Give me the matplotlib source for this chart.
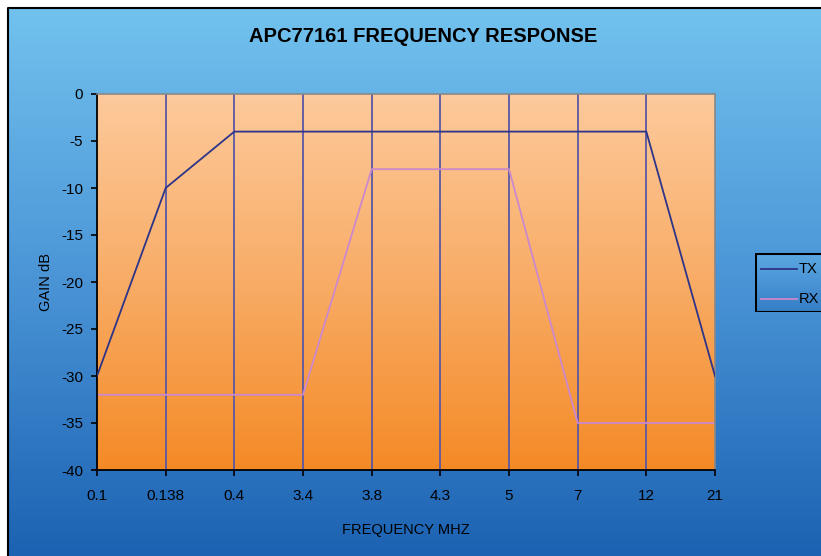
import numpy as np
import matplotlib
matplotlib.use("Agg")
from matplotlib import pyplot as plt
from matplotlib.colors import LinearSegmentedColormap
from matplotlib.patches import Rectangle

# Data
freqs = ["0.1", "0.138", "0.4", "3.4", "3.8", "4.3", "5", "7", "12", "21"]
tx_gain = [-30, -10, -4, -4, -4, -4, -4, -4, -4, -30]
rx_gain = [-32, -32, -32, -32, -8, -8, -8, -35, -35, -35]
yticks = [0, -5, -10, -15, -20, -25, -30, -35, -40]

plt.rcParams["font.family"] = ["Liberation Sans", "DejaVu Sans"]

fig = plt.figure(figsize=(8.21, 5.56), dpi=100)
fig.patch.set_facecolor("white")

# Background: blue gradient panel with black frame
bg = fig.add_axes([0, 0, 1, 1], zorder=-10)
bg.set_xlim(0, 821)
bg.set_ylim(556, 0)
bg.axis("off")
blue = LinearSegmentedColormap.from_list("blue", ["#72c2ee", "#4a94d6", "#1c62b2"])
grad = np.linspace(0, 1, 256).reshape(-1, 1)
bg.imshow(grad, cmap=blue, extent=[8, 821, 556, 8], aspect="auto")
bg.plot([8, 8, 821], [556, 8, 8], color="black", lw=1.5)

# Plot area
ax = fig.add_axes([97 / 821, 1 - 470 / 556, 618 / 821, 376 / 556])
x = np.arange(len(freqs))
orange = LinearSegmentedColormap.from_list("orange", ["#fdca9c", "#f8ac66", "#f48a26"])
ax.imshow(grad, cmap=orange, extent=[0, len(freqs) - 1, -40, 0], aspect="auto", zorder=0)

for xi in x[1:-1]:
    ax.axvline(xi, color="#5a58a4", lw=1.3, zorder=1)

ax.plot(x, tx_gain, color="#2e3488", lw=1.3, zorder=3, label="TX")
ax.plot(x, rx_gain, color="#cc88cc", lw=1.3, zorder=2, label="RX")

ax.set_xlim(0, len(freqs) - 1)
ax.set_ylim(-40, 0)
ax.set_xticks(x)
ax.set_xticklabels(freqs, fontsize=11)
ax.set_yticks(yticks)
ax.set_yticklabels([str(v) for v in yticks], fontsize=11)
ax.tick_params(axis="x", direction="out", length=4, width=1.2, color="black", pad=10)
ax.tick_params(axis="y", direction="out", length=4, width=1.2, color="black", pad=6)

for side in ["left", "bottom"]:
    ax.spines[side].set_color("black")
    ax.spines[side].set_linewidth(1.3)
for side in ["top", "right"]:
    ax.spines[side].set_color("#888888")
    ax.spines[side].set_linewidth(1.2)

ax.set_xlabel("FREQUENCY MHZ", fontsize=10.5, labelpad=14)
ax.set_ylabel("GAIN dB", fontsize=10.5, labelpad=6)

fig.text(423 / 821, 1 - 37 / 556, "APC77161 FREQUENCY RESPONSE",
         ha="center", va="center", fontsize=14.5, fontweight="bold")

# Legend box (runs off the right edge)
lg = fig.add_axes([755 / 821, 1 - 312 / 556, 90 / 821, 59 / 556])
lg.set_xlim(0, 90)
lg.set_ylim(59, 0)
lg.imshow(grad, cmap=blue, extent=[0, 90, 59, 0], aspect="auto", vmin=-0.6, vmax=1.6)
lg.add_patch(Rectangle((0, 0), 90, 59, fill=False, ec="black", lw=2.2))
lg.plot([6, 42], [16, 16], color="#2e3488", lw=1.3)
lg.plot([6, 42], [46, 46], color="#cc88cc", lw=1.3)
lg.text(44, 16, "TX", va="center", fontsize=10.5)
lg.text(44, 46, "RX", va="center", fontsize=10.5)
lg.axis("off")

fig.savefig("out.png", dpi=100)
